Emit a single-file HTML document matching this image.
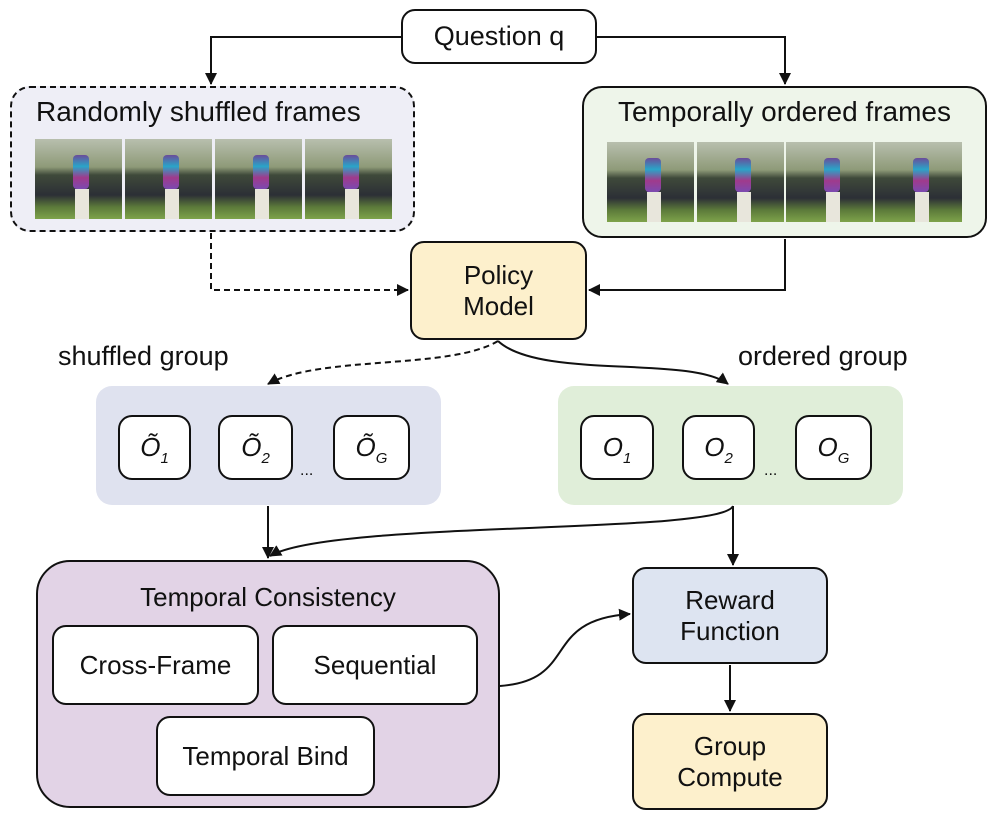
<!DOCTYPE html>
<html><head><style>
body{margin:0;width:997px;height:827px;background:#fff;position:relative;overflow:hidden;font-family:"Comic Sans MS","Liberation Sans",sans-serif;color:#111}
.b{position:absolute;box-sizing:border-box;border:2px solid #111;border-radius:14px;display:flex;align-items:center;justify-content:center;text-align:center;font-size:26px;line-height:31px;white-space:nowrap}
.t{position:absolute;font-size:27px;white-space:nowrap}
.img{position:absolute;width:87px;height:80px;background:linear-gradient(180deg,#b8bfae 0%,#8e9a78 35%,#3f4a3a 45%,#2c2f36 70%,#5c7a3a 85%,#7ea34a 100%)}
.img:after{content:"";position:absolute;left:38px;top:16px;width:16px;height:34px;background:linear-gradient(180deg,#6b4c9a,#2aa5c8,#a03a8c,#7b4ab0);border-radius:4px}
.img:before{content:"";position:absolute;left:40px;top:50px;width:14px;height:30px;background:#e8e6dc}
.s{font-style:italic}
.s sub{font-size:15px;vertical-align:-7px;line-height:0}
</style></head><body>
<svg width="997" height="827" style="position:absolute;left:0;top:0">
<defs><marker id="a" markerWidth="12" markerHeight="12" refX="11" refY="6" orient="auto" markerUnits="userSpaceOnUse"><path d="M0,0 L12,6 L0,12 z" fill="#111"/></marker></defs>
<g fill="none" stroke="#111" stroke-width="2">
<path d="M401,37 H211 V84" marker-end="url(#a)"/>
<path d="M597,37 H785 V84" marker-end="url(#a)"/>
<path d="M211,233 V290 H408" stroke-dasharray="6,4" marker-end="url(#a)"/>
<path d="M785,239 V290 H589" marker-end="url(#a)"/>
<path d="M498,341 C450,370 320,355 268,384" stroke-dasharray="6,4" marker-end="url(#a)"/>
<path d="M498,341 C540,380 690,355 728,384" marker-end="url(#a)"/>
<path d="M268,506 V558" marker-end="url(#a)"/>
<path d="M733,506 C720,535 330,520 270,556" marker-end="url(#a)"/>
<path d="M733,506 V565" marker-end="url(#a)"/>
<path d="M500,686 C580,680 540,620 630,614" marker-end="url(#a)"/>
<path d="M730,665 V711" marker-end="url(#a)"/>
</g></svg>
<div class="b" style="left:401px;top:9px;width:196px;height:55px;font-size:27px">Question q</div>
<div class="b" style="left:10px;top:86px;width:405px;height:146px;border:2px dashed #111;background:#eeeef6;border-radius:20px;align-items:flex-start;justify-content:flex-start;padding:8px 0 0 24px;font-size:28px">Randomly shuffled frames</div>
<div class="b" style="left:582px;top:86px;width:405px;height:152px;background:#eef5ea;border-radius:20px;align-items:flex-start;padding-top:8px;font-size:28px">Temporally ordered frames</div>
<div class="img" style="left:35px;top:139px"></div><div class="img" style="left:125px;top:139px"></div><div class="img" style="left:215px;top:139px"></div><div class="img" style="left:305px;top:139px"></div>
<div class="img" style="left:607px;top:142px"></div><div class="img" style="left:697px;top:142px"></div><div class="img" style="left:786px;top:142px"></div><div class="img" style="left:875px;top:142px"></div>
<div class="b" style="left:410px;top:241px;width:177px;height:99px;background:#fdf0cc">Policy<br>Model</div>
<div class="t" style="left:58px;top:341px">shuffled group</div>
<div class="t" style="left:738px;top:341px">ordered group</div>
<div style="position:absolute;left:96px;top:386px;width:345px;height:119px;background:#dfe2ef;border-radius:16px"></div>
<div style="position:absolute;left:558px;top:386px;width:345px;height:119px;background:#e0eed9;border-radius:16px"></div>
<div class="b s" style="left:118px;top:415px;width:73px;height:65px;background:#fff"><span>Õ<sub>1</sub></span></div>
<div class="b s" style="left:218px;top:415px;width:75px;height:65px;background:#fff"><span>Õ<sub>2</sub></span></div>
<div class="t" style="left:300px;top:462px;font-size:16px">...</div>
<div class="b s" style="left:333px;top:415px;width:77px;height:65px;background:#fff"><span>Õ<sub>G</sub></span></div>
<div class="b s" style="left:580px;top:415px;width:74px;height:65px;background:#fff"><span>O<sub>1</sub></span></div>
<div class="b s" style="left:682px;top:415px;width:73px;height:65px;background:#fff"><span>O<sub>2</sub></span></div>
<div class="t" style="left:764px;top:462px;font-size:16px">...</div>
<div class="b s" style="left:795px;top:415px;width:77px;height:65px;background:#fff"><span>O<sub>G</sub></span></div>
<div class="b" style="left:36px;top:560px;width:464px;height:248px;background:#e2d3e6;border-radius:34px;align-items:flex-start;padding-top:20px">Temporal Consistency</div>
<div class="b" style="left:52px;top:625px;width:207px;height:80px;background:#fff">Cross-Frame</div>
<div class="b" style="left:272px;top:625px;width:206px;height:80px;background:#fff">Sequential</div>
<div class="b" style="left:156px;top:716px;width:219px;height:80px;background:#fff">Temporal Bind</div>
<div class="b" style="left:632px;top:567px;width:196px;height:97px;background:#dde4f1">Reward<br>Function</div>
<div class="b" style="left:632px;top:713px;width:196px;height:97px;background:#fdf0cc">Group<br>Compute</div>
</body></html>
